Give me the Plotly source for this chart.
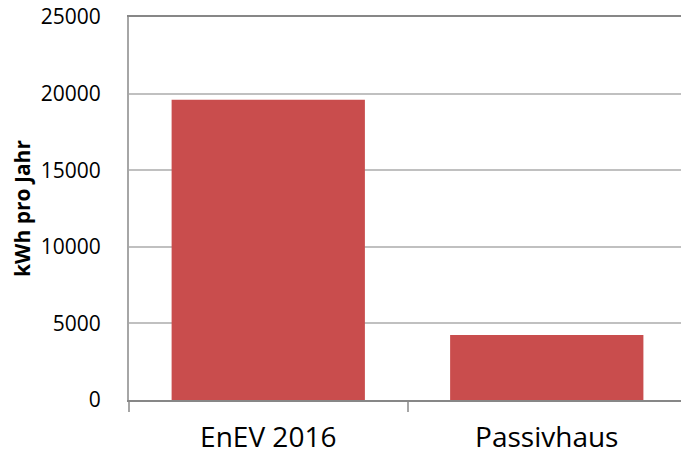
import plotly.graph_objects as go

categories = ["EnEV 2016", "Passivhaus"]
values = [19600, 4250]
y_ticks = [0, 5000, 10000, 15000, 20000, 25000]

fig = go.Figure(go.Bar(
    x=categories, y=values, width=0.694,
    marker=dict(color="#C94D4D", line=dict(width=0)),
))

fig.update_layout(
    width=681, height=459,
    margin=dict(l=129, r=0, t=17, b=59),
    paper_bgcolor="white", plot_bgcolor="white",
    showlegend=False,
    font=dict(family="Open Sans", color="black"),
)
fig.update_xaxes(
    range=[-0.5, 1.482], autorange=False,
    showline=True, linecolor="#878787", linewidth=2, mirror=True,
    ticks="outside", tickson="boundaries", ticklen=10, tickwidth=2, tickcolor="#a6a6a6",
    tickfont=dict(size=28, family="Open Sans"),
    ticklabelstandoff=11,
    showgrid=False,
    automargin=False,
)
fig.update_yaxes(
    range=[0, 25000], autorange=False,
    tickvals=y_ticks, ticktext=[str(v) for v in y_ticks],
    showline=True, linecolor="#a6a6a6", linewidth=2, mirror=False,
    showgrid=True, gridcolor="#c0c0c0", gridwidth=1.5,
    ticks="", tickfont=dict(size=21, family="Open Sans"),
    ticklabelstandoff=22,
    zeroline=False,
    title=dict(text="<b>kWh pro Jahr</b>", font=dict(size=21, family="Open Sans"), standoff=4),
    automargin=False,
)
fig.write_html("out.html")
